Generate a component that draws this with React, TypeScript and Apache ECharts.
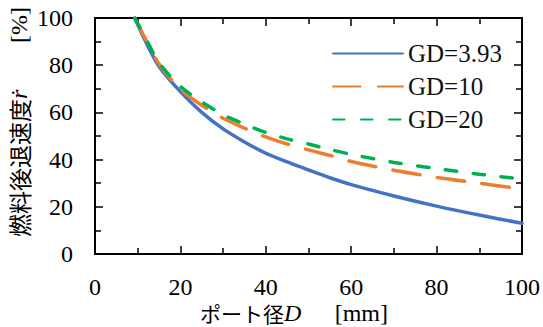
import React, { useEffect, useRef } from "react";
import * as echarts from "echarts";

const portDiameter = [9.3, 12, 15, 20, 25, 30, 35, 40, 45, 50, 55, 60, 70, 80, 90, 100];
const gd393 = [100, 89.5, 79.5, 68.8, 60, 53, 47.5, 42.7, 39, 35.6, 32.3, 29.4, 24.6, 20.3, 16.5, 13];
const gd10 = [100, 90.5, 80.5, 69.8, 63, 57.5, 53.3, 49.6, 46.6, 44.1, 41.8, 39.2, 35.5, 32.5, 30, 27.5];
const gd20 = [100, 91, 81, 71, 64.5, 59, 55, 51.5, 48.8, 46.6, 44.3, 42.2, 38.8, 36.2, 33.8, 31.8];
const seriesNames = ["GD=3.93", "GD=10", "GD=20"];

const SERIF = "Times New Roman, Liberation Serif, DejaVu Serif, serif";
const CJK = "Noto Sans CJK JP, sans-serif";

export default function App() {
  const ref = useRef<HTMLDivElement>(null);
  useEffect(() => {
    if (!ref.current) return;
    const chart = echarts.init(ref.current, null, { renderer: "svg" });
    const zip = (ys: number[]) => portDiameter.map((x, i) => [x, ys[i]]);
    const axisCommon = {
      type: "value" as const,
      min: 0,
      max: 100,
      interval: 20,
      splitLine: { show: false },
      axisLine: { show: true, onZero: false, lineStyle: { color: "#000", width: 2 } },
      axisTick: { show: true, inside: true, length: 8, lineStyle: { color: "#000", width: 1.5 } },
      minorTick: { show: true, splitNumber: 2, length: 6, lineStyle: { color: "#000", width: 1.5 } },
    };
    chart.setOption({
      animation: false,
      backgroundColor: "#fff",
      grid: { left: 95, right: 20, top: 18, bottom: 73 },
      xAxis: [
        {
          ...axisCommon,
          position: "bottom",
          axisLabel: { fontFamily: SERIF, fontSize: 24, lineHeight: 22, color: "#000", margin: 22 },
        },
        { ...axisCommon, position: "top", axisLabel: { show: false } },
      ],
      yAxis: [
        {
          ...axisCommon,
          position: "left",
          axisLabel: { fontFamily: SERIF, fontSize: 24, color: "#000", margin: 22 },
        },
        { ...axisCommon, position: "right", axisLabel: { show: false } },
      ],
      legend: {
        orient: "vertical",
        left: 327,
        top: 36,
        itemWidth: 70,
        itemHeight: 14,
        itemGap: 8,
        data: seriesNames,
        itemStyle: { color: "rgba(0,0,0,0)", borderWidth: 0, opacity: 0 },
        textStyle: { fontFamily: SERIF, fontSize: 25, color: "#111", lineHeight: 25 },
      },
      series: [
        {
          name: seriesNames[0],
          type: "line",
          data: zip(gd393),
          smooth: 0.3,
          symbol: "none",
          color: "#4472C4",
          lineStyle: { width: 3.5, color: "#4472C4", cap: "round" },
        },
        {
          name: seriesNames[1],
          type: "line",
          data: zip(gd10),
          smooth: 0.3,
          symbol: "none",
          color: "#ED7D31",
          lineStyle: { width: 3.5, color: "#ED7D31", type: [27.5, 17.5], cap: "round" },
        },
        {
          name: seriesNames[2],
          type: "line",
          data: zip(gd20),
          smooth: 0.3,
          symbol: "none",
          color: "#00B050",
          lineStyle: { width: 3.5, color: "#00B050", type: [11.5, 16.5], cap: "round" },
        },
      ],
      graphic: [
        {
          type: "text",
          x: 200,
          y: 313,
          style: {
            text: "{a|ポート径}{b|D}",
            align: "left",
            verticalAlign: "middle",
            rich: {
              a: { fontFamily: CJK, fontSize: 21, lineHeight: 21, fill: "#000" },
              b: { fontFamily: SERIF, fontSize: 24, lineHeight: 21, fontStyle: "italic", fill: "#000" },
            },
          },
        },
        {
          type: "text",
          x: 388,
          y: 313,
          style: {
            text: "[mm]",
            fontFamily: SERIF,
            fontSize: 24,
            lineHeight: 21,
            fill: "#000",
            align: "right",
            verticalAlign: "middle",
          },
        },
        {
          type: "text",
          x: 19,
          y: 237,
          rotation: Math.PI / 2,
          style: {
            text: "{a|燃料後退速度}{b|ṙ}",
            align: "left",
            verticalAlign: "middle",
            rich: {
              a: { fontFamily: CJK, fontSize: 23, fill: "#000" },
              b: { fontFamily: SERIF, fontSize: 24, fontStyle: "italic", fill: "#000" },
            },
          },
        },
        {
          type: "text",
          x: 19,
          y: 7,
          rotation: Math.PI / 2,
          style: {
            text: "[%]",
            fontFamily: SERIF,
            fontSize: 24,
            fill: "#000",
            align: "right",
            verticalAlign: "middle",
          },
        },
      ],
    });
    return () => chart.dispose();
  }, []);
  return <div ref={ref} style={{ width: 543, height: 327, position: "absolute", left: 0, top: 0 }} />;
}
